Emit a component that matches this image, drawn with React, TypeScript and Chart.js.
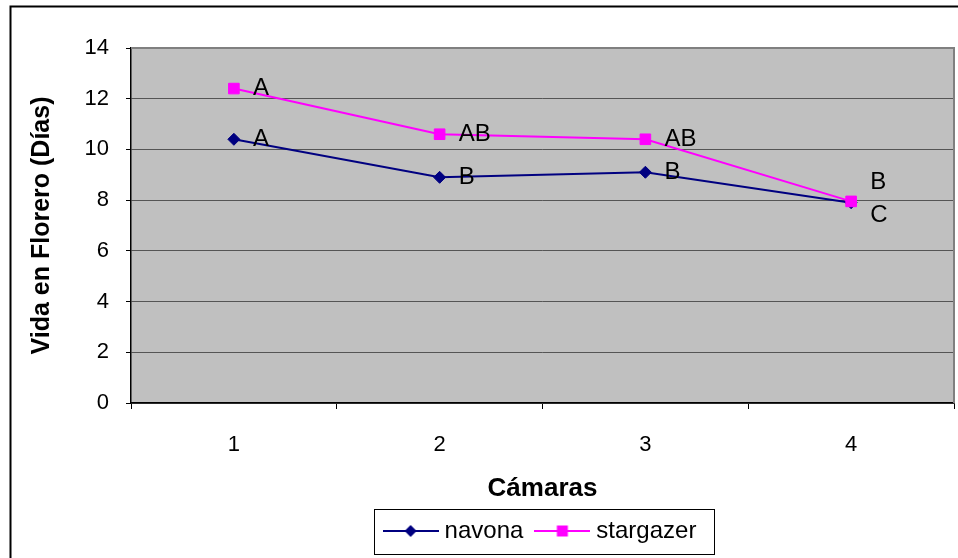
import React, { useEffect, useRef } from 'react';
import { Chart, registerables } from 'chart.js';

Chart.register(...registerables);

// ---- data ----
const categories = ['1', '2', '3', '4'];
const seriesNames = ['navona', 'stargazer'];
const navona = [10.4, 8.9, 9.1, 7.9];
const stargazer = [12.4, 10.6, 10.4, 7.95];
const navonaLetters = ['A', 'B', 'B', 'C'];
const stargazerLetters = ['A', 'AB', 'AB', 'B'];
const yMin = 0;
const yMax = 14;
const yStep = 2;
const xTitle = 'Cámaras';
const yTitle = 'Vida en Florero (Días)';

// ---- styles ----
const FONT = '"Liberation Sans", Arial, sans-serif';
const NAVY = '#000080';
const MAGENTA = '#FF00FF';
const PLOT_BG = '#C0C0C0';

function makeIcon(color: string, kind: 'diamond' | 'square') {
  const c = document.createElement('canvas');
  c.width = 56;
  c.height = 16;
  const ctx = c.getContext('2d')!;
  ctx.strokeStyle = color;
  ctx.lineWidth = 2;
  ctx.beginPath();
  ctx.moveTo(0, 8);
  ctx.lineTo(56, 8);
  ctx.stroke();
  ctx.fillStyle = color;
  ctx.beginPath();
  if (kind === 'diamond') {
    ctx.moveTo(22, 8);
    ctx.lineTo(28, 2);
    ctx.lineTo(34, 8);
    ctx.lineTo(28, 14);
    ctx.closePath();
  } else {
    ctx.rect(22.5, 2.5, 11, 11);
  }
  ctx.fill();
  return c;
}

const framePlugin = {
  id: 'frame',
  beforeDraw(chart: any) {
    const { ctx, chartArea } = chart;
    ctx.save();
    ctx.fillStyle = '#ffffff';
    ctx.fillRect(0, 0, chart.width, chart.height);
    ctx.fillStyle = PLOT_BG;
    ctx.fillRect(chartArea.left, chartArea.top, chartArea.right - chartArea.left, chartArea.bottom - chartArea.top);
    ctx.strokeStyle = '#000';
    ctx.lineWidth = 2;
    ctx.strokeRect(10.5, 6.5, chart.width + 20, chart.height + 20);
    ctx.restore();
  },
  beforeDatasetsDraw(chart: any) {
    const { ctx, chartArea } = chart;
    ctx.save();
    ctx.strokeStyle = '#808080';
    ctx.lineWidth = 2;
    ctx.beginPath();
    ctx.moveTo(chartArea.left, chartArea.top);
    ctx.lineTo(chartArea.right, chartArea.top);
    ctx.lineTo(chartArea.right, chartArea.bottom);
    ctx.stroke();
    ctx.restore();
  },
  afterDraw(chart: any) {
    const { ctx } = chart;
    const hb = chart.legend && chart.legend.legendHitBoxes;
    if (!hb || !hb.length) return;
    const left = Math.min(...hb.map((h: any) => h.left)) - 15;
    const right = Math.max(...hb.map((h: any) => h.left + h.width)) + 17;
    const cy = hb[0].top + hb[0].height / 2;
    ctx.save();
    ctx.strokeStyle = '#000';
    ctx.lineWidth = 1;
    ctx.strokeRect(Math.round(left) + 0.5, Math.round(cy - 22) + 0.5, Math.round(right - left), 45);
    ctx.restore();
  },
};

const letterPlugin = {
  id: 'letters',
  afterDatasetsDraw(chart: any) {
    const { ctx } = chart;
    const metas = [chart.getDatasetMeta(0), chart.getDatasetMeta(1)];
    const letters = [navonaLetters, stargazerLetters];
    ctx.save();
    ctx.font = `24px ${FONT}`;
    ctx.fillStyle = '#000';
    ctx.textAlign = 'left';
    ctx.textBaseline = 'middle';
    metas.forEach((meta, di) => {
      const other = metas[1 - di];
      meta.data.forEach((pt: any, i: number) => {
        const op = other.data[i];
        let dy = 0;
        if (Math.abs(op.y - pt.y) < 20) {
          dy = di === 0 ? 13 : -19;
        }
        ctx.fillText(letters[di][i], pt.x + 19, pt.y + dy);
      });
    });
    ctx.restore();
  },
};

export default function App() {
  const ref = useRef<HTMLCanvasElement | null>(null);
  useEffect(() => {
    if (!ref.current) return;
    const icons = [makeIcon(NAVY, 'diamond'), makeIcon(MAGENTA, 'square')];
    const chart = new Chart(ref.current, {
      type: 'line',
      data: {
        labels: categories,
        datasets: [
          {
            label: seriesNames[0],
            data: navona,
            borderColor: NAVY,
            backgroundColor: NAVY,
            borderWidth: 2,
            pointStyle: 'rectRot',
            pointRadius: 6,
            pointBorderWidth: 1,
            pointBackgroundColor: NAVY,
            pointBorderColor: NAVY,
            order: 1,
          },
          {
            label: seriesNames[1],
            data: stargazer,
            borderColor: MAGENTA,
            backgroundColor: MAGENTA,
            borderWidth: 2,
            pointStyle: 'rect',
            pointRadius: 7.5,
            pointBorderWidth: 1,
            pointBackgroundColor: MAGENTA,
            pointBorderColor: MAGENTA,
            order: 0,
          },
        ],
      },
      options: {
        responsive: false,
        animation: false,
        devicePixelRatio: 1,
        events: [],
        layout: { autoPadding: false, padding: { left: 0, top: 48, right: 4, bottom: 5 } },
        scales: {
          x: {
            type: 'category',
            offset: true,
            grid: {
              offset: true,
              drawOnChartArea: false,
              drawTicks: true,
              tickLength: 6,
              color: '#000',
              tickColor: '#000',
            },
            border: { color: '#000', width: 1.5 },
            ticks: { color: '#000', font: { family: FONT, size: 22 }, padding: 23, maxRotation: 0 },
            title: {
              display: true,
              text: xTitle,
              color: '#000',
              font: { family: FONT, size: 26, weight: 'bold' },
              padding: { top: 0, bottom: -2.5 },
            },
            afterFit(scale: any) {
              scale.height = 99;
              scale.paddingLeft = 0;
              scale.paddingRight = 0;
            },
          },
          y: {
            min: yMin,
            max: yMax,
            ticks: { stepSize: yStep, color: '#000', font: { family: FONT, size: 22 }, padding: 17 },
            grid: { color: '#555555', lineWidth: 1, tickLength: 5, tickColor: '#000' },
            border: { color: '#000', width: 1.5 },
            title: {
              display: true,
              text: yTitle,
              color: '#000',
              font: { family: FONT, size: 25, weight: 'bold' },
              padding: { top: 27, bottom: 0 },
            },
            afterFit(scale: any) {
              scale.width = 131;
            },
          },
        },
        plugins: {
          tooltip: { enabled: false },
          legend: {
            display: true,
            position: 'bottom',
            fullSize: false,
            labels: {
              color: '#000',
              font: { family: FONT, size: 24 },
              usePointStyle: true,
              pointStyleWidth: 44,
              padding: 17,
              generateLabels(ch: any) {
                const items = Chart.defaults.plugins.legend.labels.generateLabels(ch);
                return items
                  .sort((a: any, b: any) => a.datasetIndex - b.datasetIndex)
                  .map((it: any) => ({ ...it, pointStyle: icons[it.datasetIndex] }));
              },
            },
          },
        },
      } as any,
      plugins: [framePlugin, letterPlugin],
    });
    return () => chart.destroy();
  }, []);

  return (
    <div style={{ position: 'absolute', left: 0, top: 0, width: 958, height: 558, background: '#fff' }}>
      <canvas ref={ref} width={958} height={558} style={{ display: 'block', width: 958, height: 558 }} />
    </div>
  );
}
